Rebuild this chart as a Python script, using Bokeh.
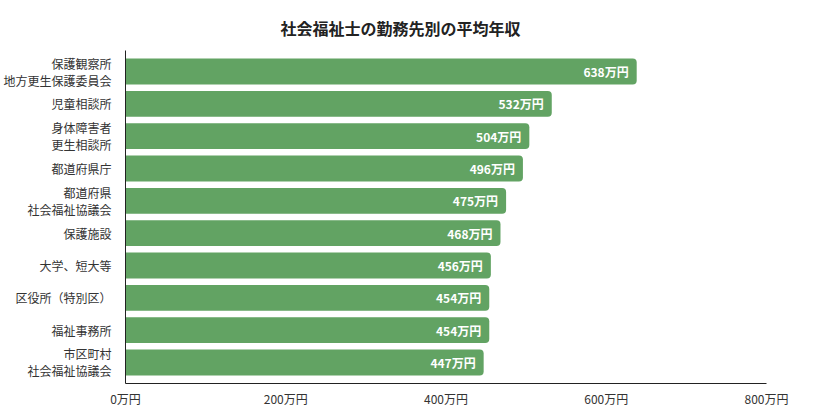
from bokeh.plotting import figure
from bokeh.models import Range1d, ColumnDataSource, Title, FixedTicker
from bokeh.core.properties import value
from bokeh.embed import file_html
from bokeh.resources import INLINE

FONT = "Noto Sans CJK JP"

categories = [
    "保護観察所\n地方更生保護委員会",
    "児童相談所",
    "身体障害者\n更生相談所",
    "都道府県庁",
    "都道府県\n社会福祉協議会",
    "保護施設",
    "大学、短大等",
    "区役所（特別区）",
    "福祉事務所",
    "市区町村\n社会福祉協議会",
]
salaries = [638, 532, 504, 496, 475, 468, 456, 454, 454, 447]
x_ticks = [0, 200, 400, 600, 800]

idx = list(range(len(categories)))
source = ColumnDataSource(data=dict(
    y=idx,
    salary=salaries,
    label=["{}万円".format(s) for s in salaries],
))

p = figure(width=813, height=410, output_backend="svg", toolbar_location=None,
           x_range=Range1d(0, 800), y_range=Range1d(len(categories) - 0.35, -0.65),
           min_border_left=125, min_border_right=47, min_border_top=50, min_border_bottom=27)
p.outline_line_color = None
p.xgrid.grid_line_color = None
p.ygrid.grid_line_color = None

p.add_layout(Title(text="社会福祉士の勤務先別の平均年収", align="left", offset=155,
                   text_font=FONT, text_font_size="16px", text_font_style="bold",
                   text_color="#222222", standoff=21), "above")

# bars
p.hbar(y="y", right="salary", left=0, height=0.8, source=source,
       fill_color="#62a363", line_color=None, border_radius=(0, 4, 4, 0))

# value labels inside the bar ends
p.text(x="salary", y="y", text="label", source=source, x_offset=-8,
       text_align="right", text_baseline="middle", text_color="white",
       text_font=value(FONT), text_font_size="12px", text_font_style="bold")

p.xaxis.ticker = FixedTicker(ticks=x_ticks)
p.xaxis.major_label_overrides = {t: "{}万円".format(t) for t in x_ticks}
p.yaxis.ticker = FixedTicker(ticks=idx)
p.yaxis.major_label_overrides = {i: c for i, c in zip(idx, categories)}

for ax in (p.xaxis, p.yaxis):
    ax.major_tick_line_color = None
    ax.minor_tick_line_color = None
    ax.axis_line_color = "#222222"
    ax.major_label_text_font = FONT
    ax.major_label_text_font_size = "12px"
    ax.major_label_text_color = "#333333"
p.yaxis.major_label_text_line_height = 1.0
p.xaxis.major_label_standoff = 0
p.yaxis.major_label_standoff = 8

open("out.html", "w").write(file_html(p, INLINE))
